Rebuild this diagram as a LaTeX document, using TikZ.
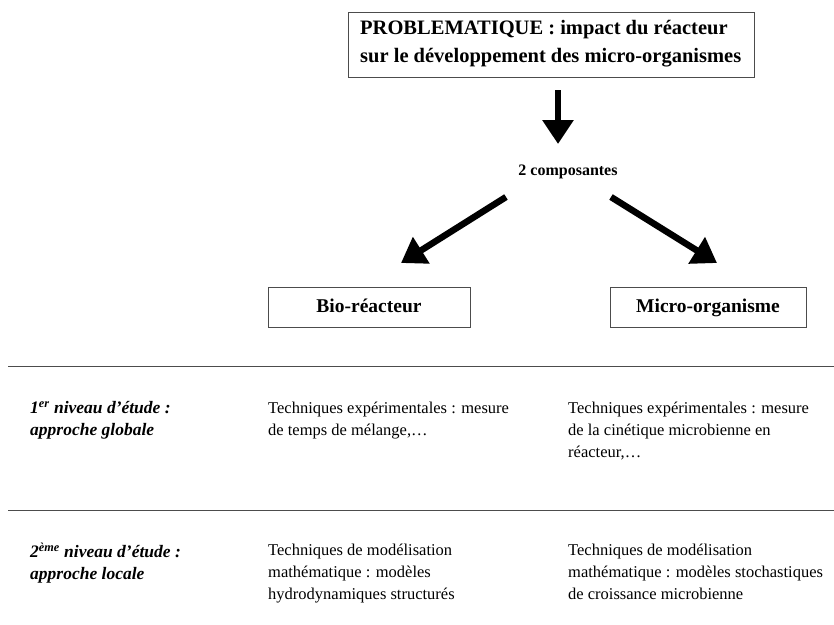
\documentclass[tikz,border=0pt]{standalone}
\usepackage{fontspec}
\setmainfont{Liberation Serif}
\usetikzlibrary{arrows.meta}
\begin{document}
\begin{tikzpicture}[x=1pt,y=-1pt,
  boxed/.style={draw=black!70,line width=0.8pt,inner sep=0pt},
  bigarrow/.style={line width=6.5pt,-{Triangle[length=24pt,width=30pt]}},
  body/.style={anchor=north west,inner sep=0pt,align=left,font=\fontsize{16.5}{22}\selectfont},
  levellabel/.style={body,font=\fontsize{17.5}{22}\selectfont\bfseries\itshape},
  compbox/.style={boxed,minimum height=40pt,text height=14pt,text depth=4pt,font=\fontsize{19.5}{22}\selectfont\bfseries},
  rule/.style={draw=black!70,line width=1pt}]
\useasboundingbox (0,0) rectangle (834,624);

% problem statement
\node[boxed,minimum width=406pt,minimum height=65pt,anchor=north west] (prob) at (348,12) {};
\node[anchor=north west,inner sep=0pt,align=left,font=\fontsize{20.5}{28}\selectfont\bfseries] (probtxt) at (360,20)
  {PROBLEMATIQUE : impact du réacteur\\sur le développement des micro-organismes};

% two components
\node[font=\fontsize{16}{18}\selectfont\bfseries,inner sep=0pt] (comp) at (568,172) {2 composantes};
\coordinate (d1) at (558,90);
\coordinate (d2) at (558,144);
\draw[bigarrow] (d1) -- (d2);

\node[compbox,minimum width=202pt] (bio) at (369,307) {Bio-réacteur};
\node[compbox,minimum width=196pt] (micro) at (708,307) {Micro-organisme};

\coordinate (l1) at (506,197);
\coordinate (l2) at (401,263);
\coordinate (r1) at (611,197);
\coordinate (r2) at (717,263);
\draw[bigarrow] (l1) -- (l2);
\draw[bigarrow] (r1) -- (r2);

% separators between the study levels
\coordinate (s1a) at (8,366);
\coordinate (s1b) at (834,366);
\coordinate (s2a) at (8,510);
\coordinate (s2b) at (834,510);
\draw[rule] (s1a) -- (s1b);
\draw[rule] (s2a) -- (s2b);

% first level
\node[levellabel] (lv1) at (30,401) {1\textsuperscript{er} niveau d’étude :\\approche globale};
\node[body] (lv1b) at (268,402) {Techniques expérimentales : mesure\\de temps de mélange,\dots};
\node[body] (lv1m) at (568,402) {Techniques expérimentales : mesure\\de la cinétique microbienne en\\réacteur,\dots};

% second level
\node[levellabel] (lv2) at (30,543) {2\textsuperscript{ème} niveau d’étude :\\approche locale};
\node[body] (lv2b) at (268,544) {Techniques de modélisation\\mathématique : modèles\\hydrodynamiques structurés};
\node[body] (lv2m) at (568,544) {Techniques de modélisation\\mathématique : modèles stochastiques\\de croissance microbienne};
\end{tikzpicture}
\end{document}
